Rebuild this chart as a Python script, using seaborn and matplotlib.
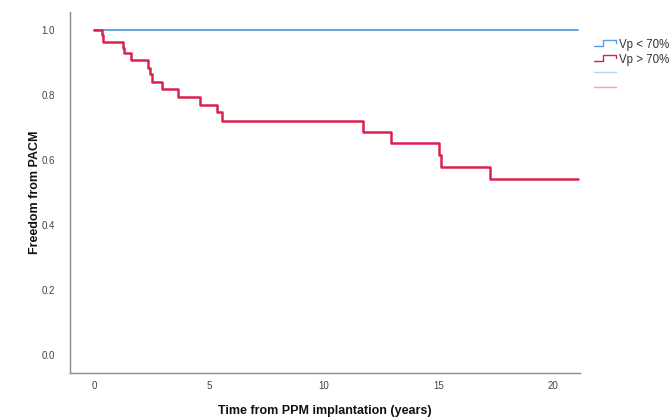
import numpy as np
import pandas as pd
import matplotlib
matplotlib.use("Agg")
import matplotlib.pyplot as plt
import seaborn as sns
from matplotlib.lines import Line2D
from matplotlib.legend_handler import HandlerBase

# ---- data ----
groups = ["Vp < 70%", "Vp > 70%"]
low_times = [0.0, 21.1]
low_surv = [1.0, 1.0]
high_times = [0.0, 0.33, 0.40, 1.25, 1.32, 1.61, 2.37, 2.44, 2.51, 2.95, 3.65,
              4.62, 5.35, 5.56, 11.73, 12.94, 15.05, 15.12, 17.25, 21.1]
high_surv = [1.0, 0.985, 0.964, 0.944, 0.928, 0.906, 0.884, 0.864, 0.841, 0.818,
             0.795, 0.769, 0.746, 0.721, 0.685, 0.651, 0.615, 0.579, 0.542, 0.542]
x_ticks = [0, 5, 10, 15, 20]
y_ticks = [0.0, 0.2, 0.4, 0.6, 0.8, 1.0]

blue = "#5b9be0"
red = "#d9214e"

df = pd.concat([
    pd.DataFrame({"time": low_times, "surv": low_surv, "group": groups[0]}),
    pd.DataFrame({"time": high_times, "surv": high_surv, "group": groups[1]}),
])

sns.set_style("white")
plt.rcParams["font.family"] = ["Liberation Sans", "DejaVu Sans"]

fig = plt.figure(figsize=(6.71, 4.2), dpi=100)
ax = fig.add_axes([70 / 671, 1 - 373 / 420, 510 / 671, 361 / 420])

sns.lineplot(data=df[df.group == groups[0]], x="time", y="surv", color=blue,
             drawstyle="steps-post", estimator=None, linewidth=1.3, ax=ax, legend=False)
sns.lineplot(data=df[df.group == groups[1]], x="time", y="surv", color=red,
             drawstyle="steps-post", estimator=None, linewidth=1.8, ax=ax, legend=False)

ax.set_xlim(-1.05, 21.18)
ax.set_ylim(-0.055, 1.055)
ax.set_xticks(x_ticks)
ax.set_xticklabels([str(t) for t in x_ticks])
ax.set_yticks(y_ticks)
ax.set_yticklabels([f"{t:.1f}" for t in y_ticks])
ax.tick_params(axis="both", length=0, labelsize=7, colors="#444444")
ax.tick_params(axis="y", pad=11)
ax.tick_params(axis="x", pad=6)
for s in ["top", "right"]:
    ax.spines[s].set_visible(False)
for s in ["left", "bottom"]:
    ax.spines[s].set_color("#8c8c8c")
    ax.spines[s].set_linewidth(1.0)

ax.set_xlabel("Time from PPM implantation (years)", fontsize=9, fontweight="bold",
              color="#111111", labelpad=10)
ax.set_ylabel("Freedom from PACM", fontsize=9, fontweight="bold",
              color="#111111", labelpad=0)


class StepHandler(HandlerBase):
    def create_artists(self, legend, orig_handle, xdescent, ydescent, width,
                       height, fontsize, trans):
        x0 = -xdescent
        y0 = -ydescent
        xs = np.array([0.0, 0.45, 0.45, 1.0, 1.0]) * width + x0
        ys = np.array([0.15, 0.15, 0.95, 0.95, 0.55]) * height + y0
        ln = Line2D(xs, ys, color=orig_handle.get_color(), linewidth=1.0,
                    transform=trans)
        return [ln]


class PlainHandler(HandlerBase):
    def create_artists(self, legend, orig_handle, xdescent, ydescent, width,
                       height, fontsize, trans):
        ln = Line2D([-xdescent, -xdescent + width],
                    [-ydescent + 0.7 * height] * 2,
                    color=orig_handle.get_color(), linewidth=1.0,
                    transform=trans)
        return [ln]


handles = [
    Line2D([], [], color=blue),
    Line2D([], [], color=red),
    Line2D([], [], color="#bcd5f3"),
    Line2D([], [], color="#f39fb4"),
]
labels = [groups[0], groups[1], "", ""]
leg = fig.legend(handles, labels, loc="upper left",
                 bbox_to_anchor=(589 / 671, 1 - 34 / 420),
                 frameon=False, fontsize=8.3, handlelength=1.9,
                 handletextpad=0.3, labelspacing=0.26, borderaxespad=0,
                 handler_map={handles[0]: StepHandler(), handles[1]: StepHandler(),
                              handles[2]: PlainHandler(), handles[3]: PlainHandler()})
for t in leg.get_texts():
    t.set_color("#333333")

fig.savefig("out.png", dpi=100)
